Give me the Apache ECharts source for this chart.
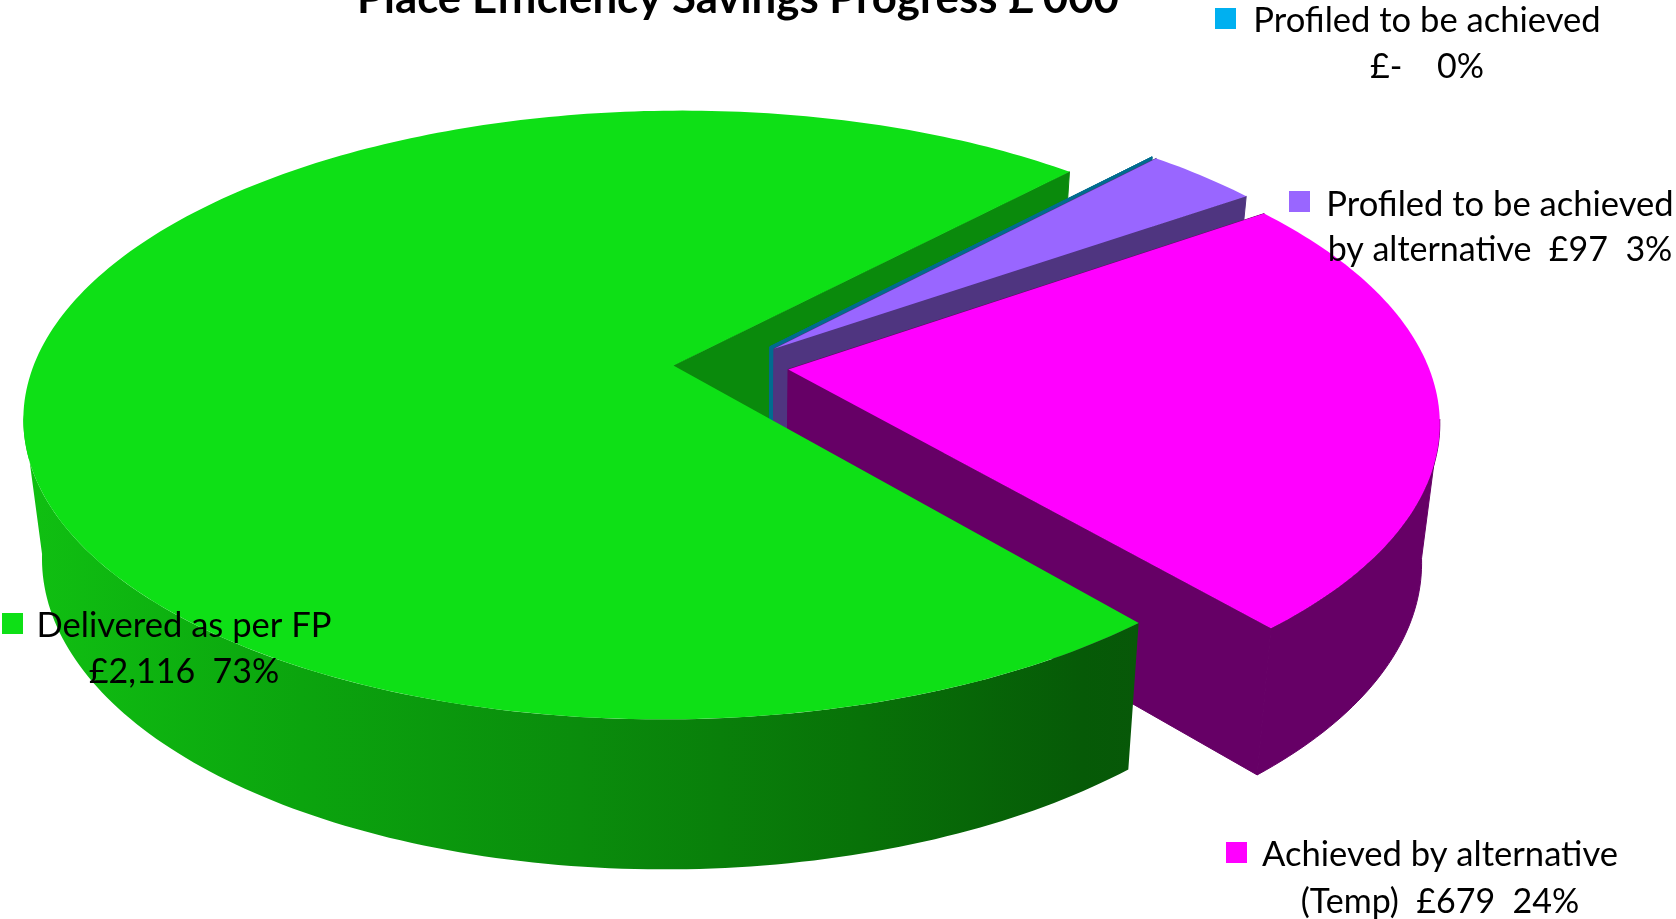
<!DOCTYPE html>
<html>
<head>
<meta charset="utf-8">
<style>html,body{margin:0;padding:0;background:#fff}#chart{width:1676px;height:919px}</style>
<script src="https://cdn.jsdelivr.net/npm/echarts@6/dist/echarts.min.js"></script>
</head>
<body>
<div id="chart"></div>
<script>
// Slices in clockwise order; the zero slice still shows as a thin wall.
const categories = ['Delivered as per FP', 'Profiled to be achieved', 'Profiled to be achieved by alternative', 'Achieved by alternative (Temp)'];
const savings = [2116, 0, 97, 679];
const labelLines = [
  ['Delivered as per FP', '£2,116  73%'],
  ['Profiled to be achieved', '£-    0%'],
  ['Profiled to be achieved', 'by alternative  £97  3%'],
  ['Achieved by alternative', '(Temp)  £679  24%']
];
const topColors = ['#0EE016', '#00B0F0', '#9966FF', '#FF00FF'];
const wallColors = ['#0A8A0C', '#006C8F', '#4F3580', '#660066'];
const chartTitle = "Place Efficiency Savings Progress £'000";

// Pie geometry: perspective projection of a unit disc. The lower face narrows towards vx,
// and the wall height grows towards the viewer.
const view = { cx: 731, cy: 366, a: 640, b: 296.5, p: 0.163, vx: 740, taperX: 0.026, wallBase: -3390, wallRate: 0.0365, explode: 0.09, start: 49.6 };
// Data label placement: swatch box and centre of the text block.
const labelBoxes = [
  { sx: 2, sy: 613, tx: 184, ty: [626, 672] },
  { sx: 1215, sy: 8, tx: 1427, ty: [21, 67] },
  { sx: 1289, sy: 191, tx: 1500, ty: [205, 250] },
  { sx: 1226, sy: 842, tx: 1440, ty: [855, 902] }
];
const total = savings.reduce((s, v) => s + v, 0);
// Rim angle where the outline of the extruded disc leaves the upper face.
const silhouette = Math.asin(view.p) * 180 / Math.PI;

function project(X, Y, lower) {
  const w = 1 - view.p * Y;
  let x = view.cx + view.a * X / w;
  let y = view.cy + view.b * Y / w;
  if (lower) {
    x += (view.vx - x) * view.taperX;
    y += (y - view.wallBase) * view.wallRate;
  }
  return [x, y];
}

function sliceSpan(i) {
  let from = view.start;
  for (let k = 0; k < i; k++) from += savings[k] / total * 360;
  return [from, from + savings[i] / total * 360];
}

function sliceOffset(i) {
  const [a0, a1] = sliceSpan(i);
  const mid = (a0 + a1) / 2 * Math.PI / 180;
  return [view.explode * Math.cos(mid), view.explode * Math.sin(mid)];
}

function rimPoint(i, deg, lower) {
  const [ox, oy] = sliceOffset(i);
  const t = deg * Math.PI / 180;
  return project(ox + Math.cos(t), oy + Math.sin(t), lower);
}

function rimArc(i, from, to, lower) {
  const steps = Math.max(1, Math.ceil(Math.abs(to - from)));
  const pts = [];
  for (let s = 0; s <= steps; s++) pts.push(rimPoint(i, from + (to - from) * s / steps, lower));
  return pts;
}

function apex(i, lower) {
  const [ox, oy] = sliceOffset(i);
  return project(ox, oy, lower);
}

function poly(points, fill, z2, edge) {
  const style = { fill };
  if (edge) { style.stroke = fill; style.lineWidth = 1; }
  return { type: 'polygon', shape: { points }, style, z2, silent: true };
}

function wall(i, deg, fill, z2) {
  return poly([apex(i, false), rimPoint(i, deg, false), rimPoint(i, deg, true), apex(i, true)], fill, z2, true);
}

function rimBand(i, from, to, fill, z2, edge) {
  return poly(rimArc(i, from, to, false).concat(rimArc(i, to, from, true)), fill, z2, edge);
}

const sideGradient = new echarts.graphic.LinearGradient(0, 0, 1, 0, [
  { offset: 0, color: '#10C012' },
  { offset: 0.25, color: '#0BA40E' },
  { offset: 0.5, color: '#0A8C0C' },
  { offset: 0.75, color: '#087208' },
  { offset: 0.95, color: '#065A07' },
  { offset: 1, color: '#075808' }
]);

// Painter's order: far green wall, zero slice, purple, magenta, then the green body in front.
function renderSlice(params) {
  const i = params.dataIndex;
  const [a0, a1] = sliceSpan(i);
  const children = [];
  const topFace = [apex(i, false)].concat(rimArc(i, a0, a1, false));
  if (i === 0) {
    children.push(wall(i, a1, wallColors[0], 1));
    children.push(rimBand(i, a0, 180 - silhouette, sideGradient, 8));
    children.push(poly(topFace, topColors[0], 9));
  } else {
    const base = 2 * i;
    children.push(wall(i, a0, wallColors[i], base));
    children.push(wall(i, a1, wallColors[i], base));
    if (i === 3) children.push(rimBand(i, silhouette, a1 - 360, wallColors[i], base, true));
    if (savings[i] > 0) children.push(poly(topFace, topColors[i], base + 1));
  }
  const box = labelBoxes[i];
  children.push({
    type: 'rect', shape: { x: box.sx, y: box.sy, width: 21, height: 21 },
    style: { fill: topColors[i] }, z2: 20, silent: true
  });
  labelLines[i].forEach((line, n) => {
    children.push({
      type: 'text', x: box.tx, y: box.ty[n], z2: 21, silent: true,
      style: { text: line, fill: '#000', font: (n ? 34 : 34.6) + 'px Lato', align: 'center', verticalAlign: 'middle' }
    });
  });
  return { type: 'group', children };
}

const chart = echarts.init(document.getElementById('chart'), null, { renderer: 'canvas' });
chart.setOption({
  animation: false,
  backgroundColor: '#fff',
  title: {
    text: chartTitle, left: 733, top: -28, textAlign: 'center',
    textStyle: { fontFamily: 'Lato', fontWeight: 'bold', fontSize: 43.8, color: '#000' }
  },
  series: [{
    type: 'custom',
    coordinateSystem: 'none',
    clip: false,
    renderItem: renderSlice,
    data: categories.map((name, i) => ({ name, value: savings[i] }))
  }]
});
</script>
</body>
</html>
